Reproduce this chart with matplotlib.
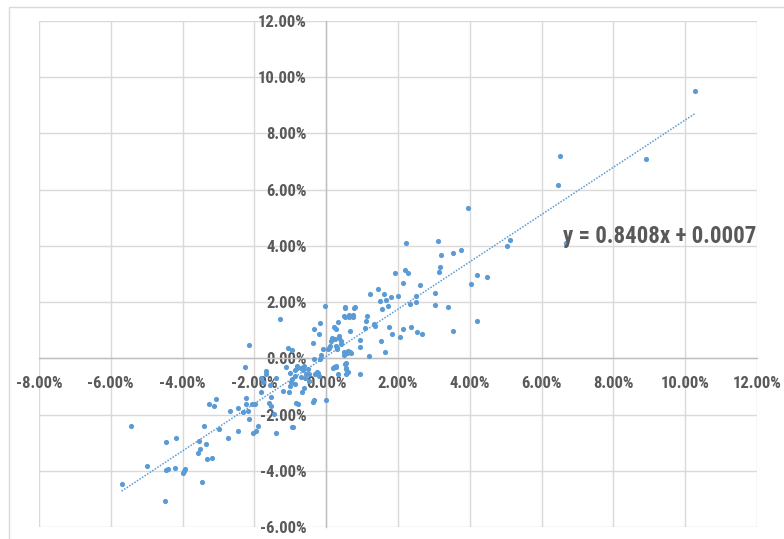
import matplotlib
matplotlib.use("Agg")
import matplotlib.pyplot as plt
from matplotlib.patches import Rectangle
from matplotlib.ticker import FuncFormatter

# daily returns in percent: x = index, y = stock
x_vals = [
    -5.70, -5.43, -5.00, -4.50, -4.47, -4.47, -4.41, -4.19, -4.20, -3.96,
    -3.92, -3.98, -3.54, -3.56, -3.52, -3.47, -3.39, -3.36, -3.31, -3.17,
    -3.26, -3.12, -3.07, -2.98, -2.74, -2.68, -2.46, -2.46, -2.31, -2.25,
    -2.23, -2.23, -2.18, -2.16, -2.15, -2.06, -1.99, -2.03, -1.96, -1.90,
    -1.82, -1.82, -1.77, -1.69, -1.67, -1.55, -1.58, -1.53, -1.45, -1.40,
    -1.39, -1.30, -1.13, -1.07, -0.94, -1.02, -1.03, -0.99, -0.88, -0.94,
    -0.83, -0.81, -1.56, -1.02, -0.95, -0.87, -1.19,
    -0.02, 0.53, 0.81, 0.50, 0.64, 0.75, -0.17, -0.33, 0.32, 0.22,
    1.12, -0.19, 0.65, 0.14, 0.17, 0.36, 0.40, -0.37, 0.08, 0.26,
    0.31, -0.08, 0.42, 0.60, 0.67, 0.49, -0.14, -0.34, -0.63, 0.21,
    0.27, 0.52, 0.56, 0.61, 0.33, -0.27, -0.47, -0.86, -0.82,
    0.94, 0.93, 0.95, 1.20, 1.07, 1.14, 1.23, 1.32, 1.35, 1.44,
    1.50, 1.55, 1.52, 1.61, 1.67, 1.65, 1.71, 1.76, 1.81, 1.82,
    1.91, 1.99,
    -0.71, -0.65, -0.59, -0.48, -0.50, -0.56, -0.71, -0.61, -0.67, -0.32,
    -0.23, -0.19, -0.37, -0.33, -0.01, -0.16, 0.06, 0.10, 0.15, 0.24,
    0.28, 0.37, 0.51, 0.51, 0.63, 0.77, 0.76, 0.50, 0.59, 0.69,
    0.54, 0.56, 0.54, 0.26, 0.19, 0.29, -0.79, -0.92,
    2.06, 2.14, 2.15, 2.21, 2.20, 2.29, 2.35, 2.34, 2.50, 2.49,
    2.54, 2.60, 2.66, 3.03, 3.04, 3.12, 3.15, 3.18, 3.21, 3.40,
    3.54, 3.54, 3.76, 3.94, 4.03, 4.19, 4.20, 4.49, 5.04, 5.13,
    6.47, 6.51, 6.68, 8.90, 10.27,
]
y_vals = [
    -4.46, -2.39, -3.82, -5.08, -2.97, -3.96, -3.94, -2.83, -3.90, -4.01,
    -3.95, -4.07, -2.93, -3.37, -3.24, -4.39, -2.39, -3.05, -3.57, -3.55,
    -1.64, -1.70, -1.44, -2.51, -2.82, -1.86, -2.59, -1.78, -1.92, -0.32,
    -1.42, -1.63, -1.87, -2.17, 0.46, -1.61, -1.61, -2.66, -2.60, -2.41,
    -1.18, -0.69, -0.85, -0.44, -0.56, -1.38, -1.59, -1.70, -1.98, -2.67,
    -0.71, 1.40, -0.30, 0.36, 0.30, -0.97, -1.21, -0.83, -0.40, -2.43,
    -1.60, -0.26, -0.96, -0.52, -0.75, -0.93, -1.17,
    1.87, 1.82, 1.82, 1.51, 1.54, 1.54, 1.24, 1.05, 1.30, 1.10,
    1.32, 0.87, 0.98, 0.63, 0.74, 0.74, 0.62, 0.56, 0.38, 0.44,
    0.35, 0.32, 0.50, 0.26, 0.24, 0.23, 0.11, -0.04, -0.26, -0.32,
    -0.29, -0.19, -0.36, -0.49, -0.57, -0.48, -0.57, -0.63, -0.36,
    0.66, 0.39, -0.54, 0.08, 1.07, 1.50, 2.28, 1.21, 1.16, 2.46,
    2.05, 1.76, 0.60, 2.30, 2.08, 0.23, 1.85, 1.13, 2.18, 0.86,
    3.04, 2.23,
    -0.33, -0.42, -0.69, -0.81, -0.39, -0.54, -0.66, -1.04, -1.19, -0.54,
    -0.51, -0.64, -1.56, -1.47, -1.47, -0.04, 0.32, 0.44, 0.68, 0.68,
    1.04, 0.78, 1.79, 1.46, 1.48, 1.79, 1.47, 0.11, 0.20, 0.18,
    -0.18, -0.37, -0.55, -0.31, -0.36, 0.32, -1.62, -2.45,
    0.77, 2.67, 1.05, 4.09, 3.15, 3.03, 1.10, 1.92, 2.22, 2.00,
    0.93, 2.60, 0.88, 2.33, 1.90, 4.18, 3.07, 3.25, 3.66, 1.83,
    3.73, 0.98, 3.86, 5.35, 2.64, 2.96, 1.33, 2.90, 3.98, 4.21,
    6.16, 7.19, 4.11, 7.10, 9.50,
]

# linear trendline reported by the spreadsheet
slope = 0.8408
intercept = 0.0007
eq_label = "y = 0.8408x + 0.0007"

x_ticks = [-8, -6, -4, -2, 0, 2, 4, 6, 8, 10, 12]
y_ticks = [-6, -4, -2, 0, 2, 4, 6, 8, 10, 12]

blue = "#5B9BD5"
grey_text = "#595959"
font = ["Roboto Condensed", "Roboto", "DejaVu Sans"]

fig = plt.figure(figsize=(7.84, 5.39), dpi=100)
fig.patches.append(Rectangle((9 / 784, -0.1), 1.2, 1 - 7 / 539 + 0.1,
                             transform=fig.transFigure, fill=False,
                             edgecolor="#d9d9d9", linewidth=1))
ax = fig.add_axes([39 / 784, 12 / 539, 718 / 784, 506 / 539])

ax.scatter(x_vals, y_vals, s=14, color=blue, linewidths=0, zorder=3)

x0, x1 = min(x_vals), max(x_vals)
trend_x = [x0, x1]
trend_y = [slope * v + intercept * 100 for v in trend_x]
ax.plot(trend_x, trend_y, color=blue, linewidth=1.1,
        linestyle=(0, (1, 1)), zorder=2)

ax.set_xlim(-8, 12)
ax.set_ylim(-6, 12)
ax.set_xticks(x_ticks)
ax.set_yticks(y_ticks)
pct = FuncFormatter(lambda v, _: f"{v:.2f}%")
ax.xaxis.set_major_formatter(pct)
ax.yaxis.set_major_formatter(pct)
ax.grid(True, color="#d9d9d9", linewidth=1)
ax.set_axisbelow(True)

for side in ["top", "right"]:
    ax.spines[side].set_visible(False)
ax.spines["left"].set_position("zero")
ax.spines["bottom"].set_position("zero")
for side in ["left", "bottom"]:
    ax.spines[side].set_color("#bfbfbf")
    ax.spines[side].set_linewidth(1)
    ax.spines[side].set_zorder(1)

ax.tick_params(length=0, colors=grey_text)
ax.tick_params(axis="x", pad=13)
ax.tick_params(axis="y", pad=14)
for lab in ax.get_xticklabels() + ax.get_yticklabels():
    lab.set_family(font)
    lab.set_fontweight("bold")
    lab.set_fontsize(12)

ax.text(6.6, 4.09, eq_label, ha="left", va="baseline", color=grey_text,
        fontsize=16.5, fontweight="bold", family=font, zorder=4)

fig.savefig("out.png", dpi=100)
